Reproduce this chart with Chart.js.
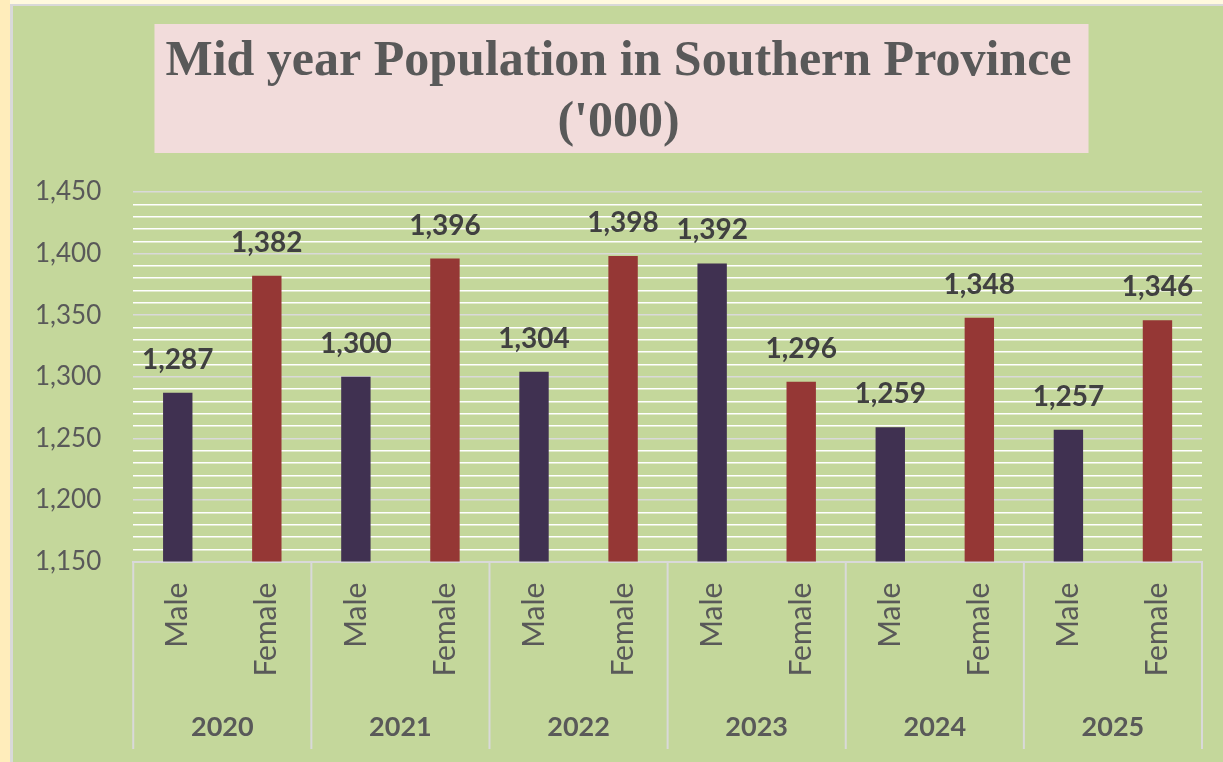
<!DOCTYPE html>
<html>
<head>
<meta charset="utf-8">
<script src="https://cdn.jsdelivr.net/npm/chart.js@4"></script>
<style>
body { margin: 0; background: #fff9df; }
#strip { position: absolute; left: 0; top: 0; width: 10px; height: 762px; background: #ffedbb; }
#wrap { position: absolute; left: 10px; top: 4px; width: 1210px; height: 756px;
        border-left: 3px solid #d9d9d9; border-top: 2px solid #d9d9d9; background: #c4d79b; }
</style>
</head>
<body>
<div id="strip"></div>
<div id="wrap"><canvas id="popChart" width="1210" height="756"></canvas></div>
<script>
var years = ['2020', '2021', '2022', '2023', '2024', '2025'];
var genders = ['Male', 'Female'];
var maleValues = [1287, 1300, 1304, 1392, 1259, 1257];
var femaleValues = [1382, 1396, 1398, 1296, 1348, 1346];
var yMin = 1150, yMax = 1450, yStep = 10, yLabelStep = 50;

var maleColor = '#403151';
var femaleColor = '#953735';
var textColor = '#595959';
var titleLines = ['Mid year Population in Southern Province', "('000)"];
var titleSize = 50, titleLineHeight = 1.22, titlePadTop = 26;

// interleave male / female for each year
var labels = [], values = [], colors = [];
years.forEach(function (y, i) {
    labels.push(genders[0], genders[1]);
    values.push(maleValues[i], femaleValues[i]);
    colors.push(maleColor, femaleColor);
});

// pink box behind the title
var titleBox = {
    id: 'titleBox',
    beforeDraw: function (chart) {
        var tb = chart.titleBlock, ctx = chart.ctx;
        ctx.save();
        ctx.font = 'bold ' + titleSize + 'px "Liberation Serif"';
        var w = Math.max.apply(null, titleLines.map(function (t) { return ctx.measureText(t).width; }));
        var cx = (tb.left + tb.right) / 2 + 3;
        var top = tb.top + titlePadTop;
        ctx.fillStyle = '#f2dcdb';
        ctx.fillRect(cx - w / 2 - 14, top - 8, w + 28, titleLines.length * titleSize * titleLineHeight + 7);
        ctx.restore();
    }
};

// value labels above bars
var valueLabels = {
    id: 'valueLabels',
    afterDatasetsDraw: function (chart) {
        var ctx = chart.ctx;
        ctx.save();
        ctx.font = 'bold 28px Lato';
        ctx.fillStyle = '#404040';
        ctx.textAlign = 'center';
        ctx.textBaseline = 'alphabetic';
        chart.getDatasetMeta(0).data.forEach(function (bar, i) {
            ctx.fillText(values[i].toLocaleString('en-US'), bar.x, bar.y - 24);
        });
        ctx.restore();
    }
};

// vertical separators between year groups
var groupLines = {
    id: 'groupLines',
    afterDraw: function (chart) {
        var xs = chart.scales.x, ys = chart.scales.year, ctx = chart.ctx;
        ctx.save();
        ctx.strokeStyle = '#d9d9d9';
        ctx.lineWidth = 2;
        for (var g = 0; g <= years.length; g++) {
            var x;
            if (g === 0) x = xs.left;
            else if (g === years.length) x = xs.right;
            else x = (xs.getPixelForValue(2 * g - 1) + xs.getPixelForValue(2 * g)) / 2;
            ctx.beginPath();
            ctx.moveTo(x, chart.chartArea.bottom);
            ctx.lineTo(x, ys.bottom);
            ctx.stroke();
        }
        ctx.restore();
    }
};

var ctx = document.getElementById('popChart').getContext('2d');
var popChart = new Chart(ctx, {
    type: 'bar',
    data: {
        labels: labels,
        datasets: [{
            data: values,
            backgroundColor: colors,
            borderWidth: 0,
            categoryPercentage: 1,
            barPercentage: 0.33
        }]
    },
    options: {
        responsive: false,
        animation: false,
        devicePixelRatio: 1,
        layout: { padding: { left: 22, right: 21, top: 0, bottom: 13 } },
        plugins: {
            legend: { display: false },
            tooltip: { enabled: false },
            title: {
                display: true,
                text: titleLines,
                color: textColor,
                font: { family: 'Liberation Serif', size: titleSize, weight: 'bold', lineHeight: titleLineHeight },
                padding: { top: titlePadTop, bottom: 38 }
            }
        },
        scales: {
            x: {
                position: 'bottom',
                weight: 0,
                offset: true,
                grid: { display: false, drawTicks: false },
                border: { display: true, color: '#d9d9d9', width: 2 },
                ticks: {
                    color: textColor,
                    font: { family: 'Lato', size: 30 },
                    minRotation: 90,
                    maxRotation: 90,
                    autoSkip: false,
                    padding: 21
                },
                afterFit: function (s) { s.height -= 23; }
            },
            year: {
                type: 'category',
                labels: years,
                position: 'bottom',
                weight: 1,
                offset: true,
                grid: { display: false, drawTicks: false },
                border: { display: false },
                ticks: {
                    color: textColor,
                    font: { family: 'Lato', size: 27, weight: 'bold' },
                    maxRotation: 0,
                    padding: 36
                },
                afterFit: function (s) { s.height -= 30; }
            },
            y: {
                min: yMin,
                max: yMax,
                border: { display: false },
                grid: {
                    drawTicks: false,
                    lineWidth: 1.5,
                    color: function (c) { return c.tick.value % yLabelStep === 0 ? '#d9d9d9' : '#ffffff'; }
                },
                ticks: {
                    stepSize: yStep,
                    autoSkip: false,
                    padding: 32,
                    color: textColor,
                    font: { family: 'Lato', size: 26 },
                    callback: function (v) { return v % yLabelStep === 0 ? v.toLocaleString('en-US') : ''; }
                },
                afterFit: function (s) { s.width -= 32; }
            }
        }
    },
    plugins: [titleBox, valueLabels, groupLines]
});
</script>
</body>
</html>
